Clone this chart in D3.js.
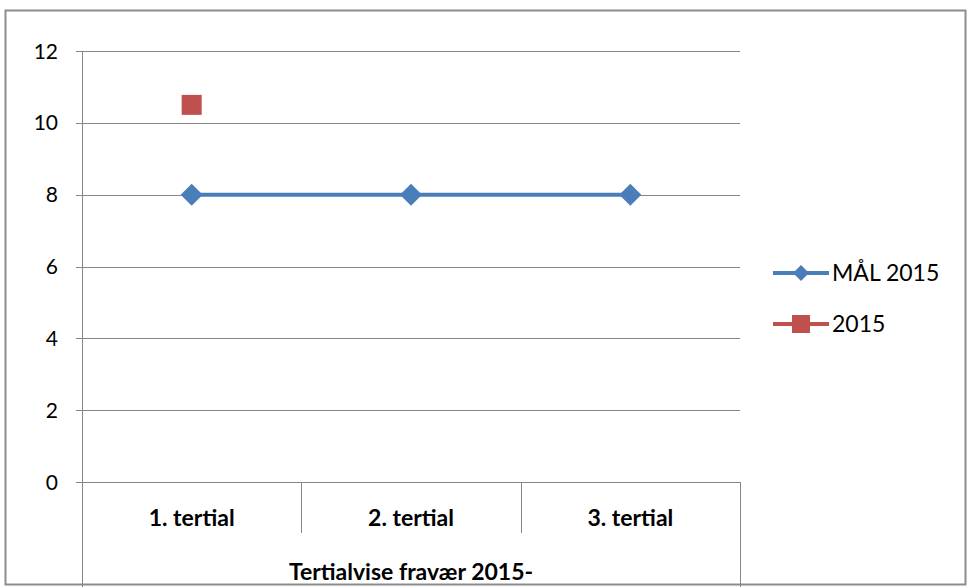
<!DOCTYPE html>
<html><head><meta charset="utf-8">
<script src="https://cdn.jsdelivr.net/npm/d3@7"></script>
<style>body{margin:0;background:#fff}svg{display:block}text{font-family:Lato,"Open Sans",sans-serif;fill:#000}</style>
</head><body><svg id="c" width="970" height="587"></svg>
<script>
const categories = ["1. tertial", "2. tertial", "3. tertial"];
const malValues = [8, 8, 8];
const actualValues = [10.5, null, null];
const yTicks = [0, 2, 4, 6, 8, 10, 12];
const seriesNames = ["MÅL 2015", "2015"];
const axisTitle = "Tertialvise fravær 2015-";

const svg = d3.select("#c");
const L = 82, R = 740, T = 51, B = 482;
const x = d3.scaleBand().domain(categories).range([L, R]);
const y = d3.scaleLinear().domain([0, 12]).range([B, T]);

svg.append("rect").attr("x", 5.5).attr("y", 10.5).attr("width", 960).attr("height", 574)
  .attr("fill", "#fff").attr("stroke", "#8c8c8c").attr("stroke-width", 2);

// gridlines
svg.append("g").selectAll("line").data(yTicks).join("line")
  .attr("x1", L - 6).attr("x2", R).attr("y1", d => Math.round(y(d)) + 0.5).attr("y2", d => Math.round(y(d)) + 0.5)
  .attr("stroke", "#868686").attr("stroke-width", 1);
svg.append("g").selectAll("text").data(yTicks).join("text")
  .attr("x", 58).attr("y", d => y(d) + 7.5).attr("text-anchor", "end")
  .attr("font-size", 21).text(d => d);

// vertical axis and category separators
svg.append("line").attr("x1", L + 0.5).attr("x2", L + 0.5).attr("y1", T).attr("y2", 587).attr("stroke", "#868686");
svg.append("line").attr("x1", R + 0.5).attr("x2", R + 0.5).attr("y1", B).attr("y2", 587).attr("stroke", "#868686");
svg.append("g").selectAll("line").data(categories.slice(1)).join("line")
  .attr("x1", d => Math.round(x(d)) + 0.5).attr("x2", d => Math.round(x(d)) + 0.5)
  .attr("y1", B).attr("y2", 533).attr("stroke", "#868686");
svg.append("g").selectAll("text").data(categories).join("text")
  .attr("x", d => x(d) + x.bandwidth() / 2).attr("y", 526).attr("text-anchor", "middle")
  .attr("font-size", 23).attr("font-weight", "bold").text(d => d);
svg.append("text").attr("x", (L + R) / 2).attr("y", 580).attr("text-anchor", "middle")
  .attr("font-size", 23).attr("font-weight", "bold").text(axisTitle);

const blue = "#4a7ebb", red = "#c0504d";
const cx = d => x(d) + x.bandwidth() / 2;
const diamond = (g, px, py, s) => g.append("path")
  .attr("d", `M${px},${py - s}L${px + s},${py}L${px},${py + s}L${px - s},${py}Z`).attr("fill", blue);

svg.append("path").datum(malValues)
  .attr("d", d3.line().x((d, i) => cx(categories[i])).y(d => y(d)))
  .attr("fill", "none").attr("stroke", blue).attr("stroke-width", 4);
malValues.forEach((v, i) => diamond(svg, cx(categories[i]), y(v), 11));
actualValues.forEach((v, i) => {
  if (v == null) return;
  svg.append("rect").attr("x", cx(categories[i]) - 10).attr("y", y(v) - 10)
    .attr("width", 20).attr("height", 20).attr("fill", red);
});

// legend
const lg = svg.append("g");
[[273, blue, "d"], [324, red, "s"]].forEach(([ly, col, m], i) => {
  lg.append("line").attr("x1", 773).attr("x2", 829).attr("y1", ly).attr("y2", ly)
    .attr("stroke", col).attr("stroke-width", 4);
  if (m === "d") diamond(lg, 801, ly, 8);
  else lg.append("rect").attr("x", 792).attr("y", ly - 9).attr("width", 18).attr("height", 18).attr("fill", col);
  lg.append("text").attr("x", 832).attr("y", ly + 8).attr("font-size", 23).text(seriesNames[i]);
});
</script></body></html>
